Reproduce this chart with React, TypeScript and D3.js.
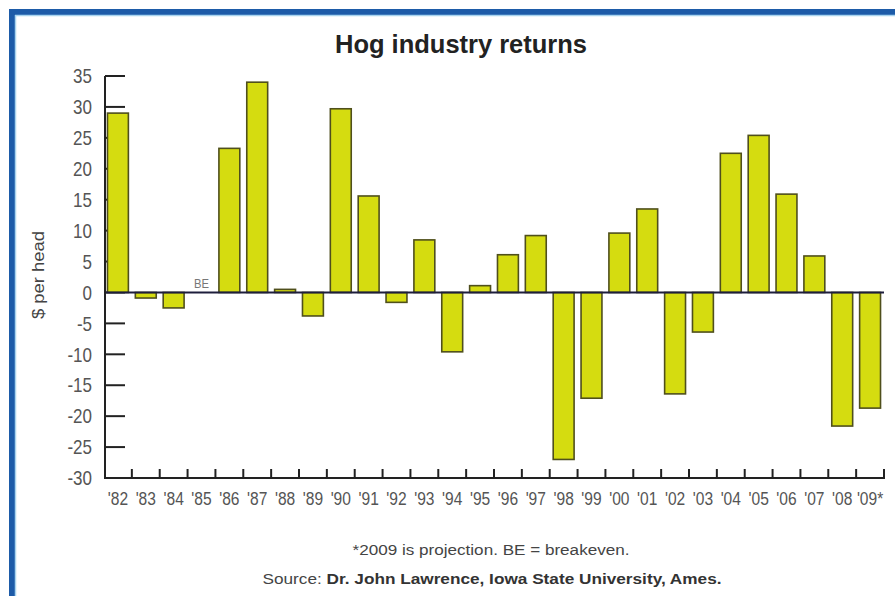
import React from "react";
import * as d3 from "d3";

const years = ["'82","'83","'84","'85","'86","'87","'88","'89","'90","'91","'92","'93","'94","'95","'96","'97","'98","'99","'00","'01","'02","'03","'04","'05","'06","'07","'08","'09*"];
const returns = [29.0,-0.9,-2.5,0,23.3,34.0,0.5,-3.8,29.7,15.6,-1.6,8.5,-9.6,1.1,6.1,9.2,-27.0,-17.1,9.6,13.5,-16.4,-6.4,22.5,25.4,15.9,5.9,-21.6,-18.7];
const yTicks = [35,30,25,20,15,10,5,0,-5,-10,-15,-20,-25,-30];

const W = 895, H = 596;
const left = 105, right = 884, top = 76, bottom = 478;

export default function App() {
  const x = d3.scaleBand<string>().domain(years).range([104, right]).paddingInner(0.25).paddingOuter(0.125);
  const y = d3.scaleLinear().domain([-30, 35]).range([bottom, top]);
  const step = x.step();
  const boundaries = years.map((yr) => (x(yr) as number) - step * 0.125 + step);
  const sans = "'Liberation Sans', Arial, sans-serif";
  return (
    <div style={{ position: "absolute", left: 0, top: 0, width: W, height: H, background: "#fff" }}>
      <svg width={W} height={H} style={{ display: "block" }}>
        <rect x={0} y={0} width={W} height={H} fill="#ffffff" />
        {/* frame */}
        <rect x={9} y={9} width={W - 9} height={6} fill="#1d5ba8" />
        <rect x={9} y={9} width={6} height={H - 9} fill="#1d5ba8" />
        <line x1={15} y1={15.5} x2={W} y2={15.5} stroke="#a8d4ef" strokeWidth={1.5} />
        <line x1={15.5} y1={15} x2={15.5} y2={H} stroke="#a8d4ef" strokeWidth={1.5} />

        {/* title */}
        <text x={461} y={53} textAnchor="middle" fontFamily={sans} fontWeight="bold" fontSize={25}
          textLength={252} lengthAdjust="spacingAndGlyphs" fill="#222">Hog industry returns</text>

        {/* y ticks */}
        {yTicks.map((t) => (
          <g key={t}>
            <line x1={left} x2={left + 20} y1={y(t)} y2={y(t)} stroke="#222" strokeWidth={2} />
            <text transform={`translate(92,${y(t)}) scale(0.85,1)`} dy="0.36em" textAnchor="end"
              fontFamily={sans} fontSize={20} fill="#555">{t}</text>
          </g>
        ))}

        {/* y label */}
        <text transform={`translate(44,275) rotate(-90)`} textAnchor="middle" fontFamily={sans} fontSize={16}
          textLength={88} lengthAdjust="spacingAndGlyphs" fill="#444">$ per head</text>

        {/* bars */}
        {returns.map((v, i) => {
          const y0 = y(Math.max(0, v));
          const h = Math.abs(y(v) - y(0));
          return (
            <rect key={years[i]} x={x(years[i])} y={y0} width={x.bandwidth()} height={h}
              fill="#d5dc10" stroke="#4f4f1c" strokeWidth={1.6} />
          );
        })}

        {/* zero line */}
        <line x1={left} x2={right} y1={y(0)} y2={y(0)} stroke="#1e1e3c" strokeWidth={2} />
        <text x={(x("'85") as number) + x.bandwidth() / 2} y={288} textAnchor="middle" fontFamily={sans} fontSize={12}
          textLength={15} lengthAdjust="spacingAndGlyphs" fill="#777">BE</text>

        {/* axes */}
        <line x1={left} x2={left} y1={top} y2={bottom} stroke="#222" strokeWidth={2} />
        <line x1={left - 1} x2={right + 1} y1={bottom} y2={bottom} stroke="#222" strokeWidth={2} />
        {boundaries.map((bx, i) => (
          <line key={i} x1={bx} x2={bx} y1={bottom} y2={bottom - 9} stroke="#222" strokeWidth={2} />
        ))}
        {years.map((yr) => (
          <text key={yr} transform={`translate(${(x(yr) as number) + x.bandwidth() / 2},505) scale(0.82,1)`}
            textAnchor="middle" fontFamily={sans} fontSize={19} fill="#555">{yr}</text>
        ))}

        {/* footer */}
        <text x={491} y={555} textAnchor="middle" fontFamily={sans} fontSize={14}
          textLength={277} lengthAdjust="spacingAndGlyphs" fill="#444">*2009 is projection. BE = breakeven.</text>
        <text x={492} y={584} textAnchor="middle" fontFamily={sans} fontSize={14}
          textLength={459} lengthAdjust="spacingAndGlyphs" fill="#444">
          Source: <tspan fontWeight="bold" fill="#333">Dr. John Lawrence, Iowa State University, Ames.</tspan>
        </text>
      </svg>
    </div>
  );
}
